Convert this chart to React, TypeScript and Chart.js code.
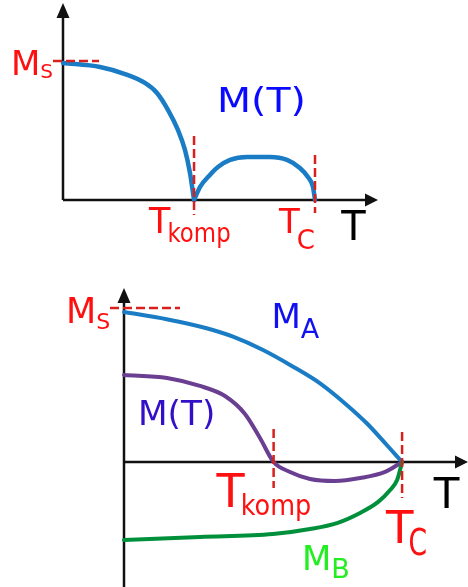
import React, { useEffect, useRef } from "react";
import { Chart, registerables } from "chart.js";

Chart.register(...registerables);

// Upper panel: net magnetisation of a ferrimagnet with a compensation point.
// Temperature is given in units of the Curie temperature, M in units of M_s.
const upperLowT = [0, 0.147, 0.246, 0.325, 0.373, 0.417, 0.456, 0.484, 0.504, 0.52];
const upperLowM = [0.986, 0.957, 0.906, 0.842, 0.77, 0.647, 0.504, 0.36, 0.194, 0];
const upperHighT = [0.52, 0.544, 0.583, 0.615, 0.663, 0.73, 0.821, 0.889, 0.94, 0.972, 0.992, 1.0];
const upperHighM = [0, 0.094, 0.18, 0.237, 0.288, 0.309, 0.309, 0.288, 0.23, 0.165, 0.094, 0];
const upperTkomp = 0.52;
const upperTc = 1.0;

// Lower panel: sublattice magnetisations M_A, M_B and their sum M(T).
const sublatticeAT = [0, 0.153, 0.297, 0.392, 0.5, 0.608, 0.705, 0.801, 0.873, 0.945, 1.0];
const sublatticeAM = [0.98, 0.933, 0.874, 0.819, 0.732, 0.623, 0.514, 0.373, 0.253, 0.111, 0];
const netT = [0, 0.155, 0.273, 0.363, 0.435, 0.489, 0.538, 0.597, 0.669, 0.759, 0.849, 0.939, 1.0];
const netM = [0.569, 0.549, 0.497, 0.431, 0.314, 0.157, 0, -0.065, -0.111, -0.124, -0.105, -0.065, 0];
const sublatticeBT = [0, 0.273, 0.536, 0.669, 0.766, 0.849, 0.914, 0.957, 0.982, 1.0];
const sublatticeBM = [-0.51, -0.49, -0.471, -0.438, -0.399, -0.333, -0.261, -0.183, -0.118, 0];
const lowerTkomp = 0.538;
const lowerTc = 1.0;
const saturation = 1.0;

// Annotation texts: [main, subscript]
const labelMs = ["M", "S"];
const labelTkomp = ["T", "komp"];
const labelTc = ["T", "C"];
const labelMA = ["M", "A"];
const labelMB = ["M", "B"];
const labelMT = "M(T)";
const labelT = "T";

const FONT = '"DejaVu Sans", sans-serif';
const RED = "#ff1010";
const DASH_RED = "#d8201c";
const CURVE_BLUE = "#1a7cc4";
const CURVE_PURPLE = "#6a3f92";
const CURVE_GREEN = "#00903c";

const pts = (xs: number[], ys: number[]) => xs.map((x, i) => ({ x, y: ys[i] }));

type TextStyle = {
  size: number;
  color: string;
  sx?: number;
};

type SubStyle = TextStyle & {
  subSize: number;
  drop: number;
  gap?: number;
  subSx?: number;
};

// Draws text horizontally scaled by sx; returns the advance width.
function fillScaled(ctx: CanvasRenderingContext2D, text: string, x: number, y: number, size: number, sx: number) {
  ctx.font = `${size}px ${FONT}`;
  ctx.save();
  ctx.translate(x, y);
  ctx.scale(sx, 1);
  ctx.fillText(text, 0, 0);
  ctx.restore();
  return ctx.measureText(text).width * sx;
}

function drawSub(ctx: CanvasRenderingContext2D, parts: string[], x: number, y: number, s: SubStyle) {
  ctx.fillStyle = s.color;
  ctx.textAlign = "left";
  ctx.textBaseline = "alphabetic";
  const w = fillScaled(ctx, parts[0], x, y, s.size, s.sx ?? 1);
  fillScaled(ctx, parts[1], x + w + (s.gap ?? 0), y + s.drop, s.subSize, s.subSx ?? 1);
}

function drawPlain(ctx: CanvasRenderingContext2D, text: string, x: number, y: number, s: TextStyle) {
  ctx.fillStyle = s.color;
  ctx.textAlign = "left";
  ctx.textBaseline = "alphabetic";
  fillScaled(ctx, text, x, y, s.size, s.sx ?? 1);
}

function dashLine(ctx: CanvasRenderingContext2D, x1: number, y1: number, x2: number, y2: number) {
  ctx.save();
  ctx.strokeStyle = DASH_RED;
  ctx.lineWidth = 2.5;
  ctx.setLineDash([9, 4]);
  ctx.beginPath();
  ctx.moveTo(x1, y1);
  ctx.lineTo(x2, y2);
  ctx.stroke();
  ctx.restore();
}

function drawAxes(chart: any, yAxisBottom: number) {
  const ctx: CanvasRenderingContext2D = chart.ctx;
  const { x, y } = chart.scales;
  const area = chart.chartArea;
  const ox = x.getPixelForValue(0);
  const oy = y.getPixelForValue(0);
  ctx.save();
  ctx.strokeStyle = "#111";
  ctx.fillStyle = "#111";
  ctx.lineWidth = 2.5;
  ctx.beginPath();
  ctx.moveTo(ox, yAxisBottom);
  ctx.lineTo(ox, area.top + 10);
  ctx.moveTo(ox, oy);
  ctx.lineTo(area.right - 10, oy);
  ctx.stroke();
  // arrow heads
  ctx.beginPath();
  ctx.moveTo(ox, area.top);
  ctx.lineTo(ox - 6.5, area.top + 15);
  ctx.lineTo(ox + 6.5, area.top + 15);
  ctx.closePath();
  ctx.fill();
  ctx.beginPath();
  ctx.moveTo(area.right, oy);
  ctx.lineTo(area.right - 13, oy - 6.5);
  ctx.lineTo(area.right - 13, oy + 6.5);
  ctx.closePath();
  ctx.fill();
  ctx.restore();
}

function baseOptions(xMax: number, yMin: number, yMax: number, padding: any) {
  return {
    animation: false as const,
    responsive: false,
    maintainAspectRatio: false,
    devicePixelRatio: 1,
    events: [] as any[],
    layout: { padding },
    plugins: { legend: { display: false }, tooltip: { enabled: false } },
    elements: { point: { radius: 0 } },
    scales: {
      x: { type: "linear" as const, min: 0, max: xMax, display: false },
      y: { type: "linear" as const, min: yMin, max: yMax, display: false },
    },
  };
}

function curve(data: { x: number; y: number }[], color: string, width: number) {
  return {
    data,
    borderColor: color,
    borderWidth: width,
    fill: false,
    cubicInterpolationMode: "monotone" as const,
    pointRadius: 0,
    clip: false as any,
    borderCapStyle: "round" as const,
    borderJoinStyle: "round" as const,
  };
}

function UpperPanel() {
  const ref = useRef<HTMLCanvasElement>(null);
  useEffect(() => {
    const canvas = ref.current!;
    const annotations = {
      id: "upperAnnotations",
      beforeDatasetsDraw(chart: any) {
        drawAxes(chart, chart.scales.y.getPixelForValue(0));
      },
      afterDatasetsDraw(chart: any) {
        const ctx: CanvasRenderingContext2D = chart.ctx;
        const { x, y } = chart.scales;
        const ox = x.getPixelForValue(0);
        const oy = y.getPixelForValue(0);
        const ms = y.getPixelForValue(saturation);
        const tk = x.getPixelForValue(upperTkomp);
        const tc = x.getPixelForValue(upperTc);
        dashLine(ctx, ox - 10, ms, ox + 36, ms);
        dashLine(ctx, tk, oy - 64, tk, oy + 15);
        dashLine(ctx, tc, oy - 45, tc, oy + 13);

        drawSub(ctx, labelMs, ox - 52, ms + 14, { size: 34, subSize: 20, drop: 3, color: RED });
        drawPlain(ctx, labelMT, ox + 154, ms + 51, { size: 34, sx: 1.16, color: "#0a0aff" });
        drawSub(ctx, labelTkomp, tk - 45, oy + 33, {
          size: 35, subSize: 26, subSx: 0.88, drop: 9, gap: -3, color: RED,
        });
        drawSub(ctx, labelTc, tc - 36, oy + 33, { size: 34, subSize: 26, drop: 16, gap: -3, color: RED });
        drawPlain(ctx, labelT, x.getPixelForValue(1.1) + 1, oy + 40, { size: 40, color: "#000" });
      },
    };
    const chart = new Chart(canvas, {
      type: "line",
      data: {
        datasets: [
          curve(pts(upperLowT, upperLowM), CURVE_BLUE, 4.5),
          curve(pts(upperHighT, upperHighM), CURVE_BLUE, 4.5),
        ],
      },
      options: baseOptions(1.25, 0, 1.417, { left: 63, right: 90, top: 3, bottom: 60 }) as any,
      plugins: [annotations],
    });
    return () => chart.destroy();
  }, []);
  return (
    <canvas
      ref={ref}
      width={468}
      height={260}
      style={{ position: "absolute", left: 0, top: 0, width: 468, height: 260 }}
    />
  );
}

function LowerPanel() {
  const ref = useRef<HTMLCanvasElement>(null);
  useEffect(() => {
    const canvas = ref.current!;
    const annotations = {
      id: "lowerAnnotations",
      beforeDatasetsDraw(chart: any) {
        drawAxes(chart, chart.height);
      },
      afterDatasetsDraw(chart: any) {
        const ctx: CanvasRenderingContext2D = chart.ctx;
        const { x, y } = chart.scales;
        const ox = x.getPixelForValue(0);
        const oy = y.getPixelForValue(0);
        const ms = y.getPixelForValue(saturation);
        const tk = x.getPixelForValue(lowerTkomp);
        const tc = x.getPixelForValue(lowerTc);
        dashLine(ctx, ox - 14, ms - 1, ox + 56, ms - 1);
        dashLine(ctx, tk, oy - 33, tk, oy + 26);
        dashLine(ctx, tc, oy - 30, tc, oy + 36);

        drawSub(ctx, labelMs, ox - 58, ms + 14, { size: 35, subSize: 22, drop: 6, color: RED });
        drawSub(ctx, labelMA, x.getPixelForValue(0.53), ms + 19, {
          size: 34, subSize: 27, drop: 10, color: "#1010f0",
        });
        drawPlain(ctx, labelMT, ox + 14, oy - 37, { size: 33, sx: 1.04, color: "#3310c8" });
        drawSub(ctx, labelTkomp, tk - 57, oy + 45, {
          size: 46, subSize: 29, subSx: 0.88, drop: 8, gap: -4, color: RED,
        });
        drawSub(ctx, labelTc, tc - 16, oy + 81, {
          size: 45, subSize: 37, subSx: 0.72, drop: 12, gap: -5, color: RED,
        });
        drawSub(ctx, labelMB, x.getPixelForValue(0.64), oy + 108, {
          size: 34, subSize: 27, drop: 8, color: "#22ee22",
        });
        drawPlain(ctx, labelT, x.getPixelForValue(1.11) + 1, oy + 46, { size: 42, color: "#000" });
      },
    };
    const chart = new Chart(canvas, {
      type: "line",
      data: {
        datasets: [
          curve(pts(sublatticeBT, sublatticeBM), CURVE_GREEN, 4),
          curve(pts(netT, netM), CURVE_PURPLE, 4),
          curve(pts(sublatticeAT, sublatticeAM), CURVE_BLUE, 4),
        ],
      },
      options: baseOptions(1.237, -0.817, 1.137, { left: 124, right: 0, top: 28, bottom: 0 }) as any,
      plugins: [annotations],
    });
    return () => chart.destroy();
  }, []);
  return (
    <canvas
      ref={ref}
      width={468}
      height={327}
      style={{ position: "absolute", left: 0, top: 260, width: 468, height: 327 }}
    />
  );
}

export default function App() {
  return (
    <div
      style={{
        position: "absolute",
        left: 0,
        top: 0,
        width: 468,
        height: 587,
        background: "#fff",
        overflow: "hidden",
      }}
    >
      <UpperPanel />
      <LowerPanel />
    </div>
  );
}
